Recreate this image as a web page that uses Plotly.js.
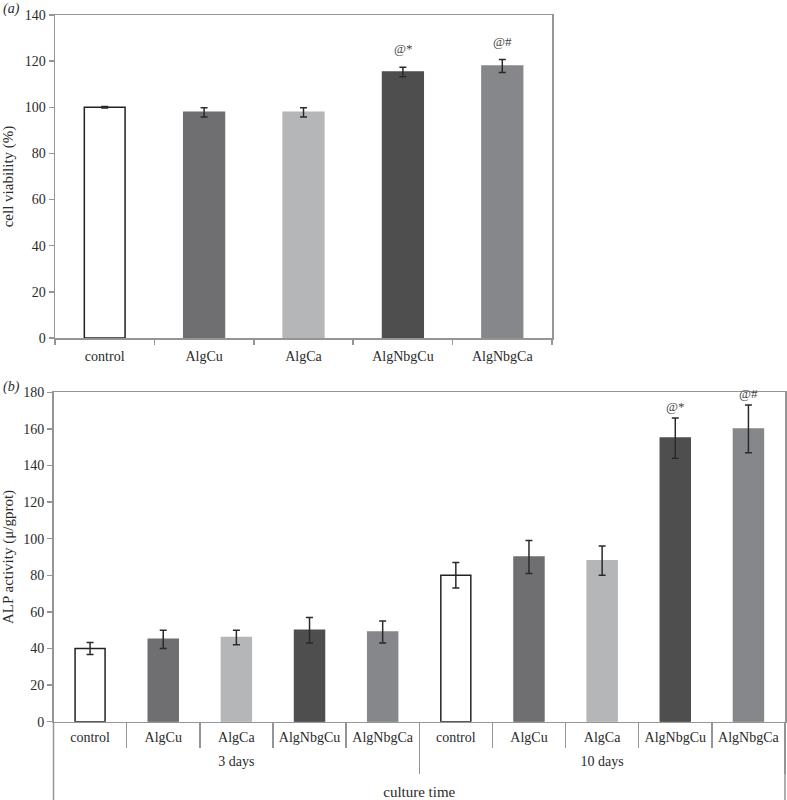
<!DOCTYPE html>
<html>
<head>
<meta charset="utf-8">
<script src="https://cdn.plot.ly/plotly-3.0.1.min.js"></script>
<style>html,body{margin:0;padding:0;background:#fff;}#chart{width:787px;height:800px;}</style>
</head>
<body>
<div id="chart"></div>
<script>
// ---- data ----
const topCats = ['control', 'AlgCu', 'AlgCa', 'AlgNbgCu', 'AlgNbgCa'];
const topVals = [100, 97.8, 97.8, 115.3, 117.9];
const topErr = [0.3, 2.0, 2.0, 2.1, 2.8];
const topMarks = ['', '', '', '@*', '@#'];

const dayGroups = ['3 days', '3 days', '3 days', '3 days', '3 days',
                   '10 days', '10 days', '10 days', '10 days', '10 days'];
const alpCats = ['control', 'AlgCu', 'AlgCa', 'AlgNbgCu', 'AlgNbgCa',
                 'control', 'AlgCu', 'AlgCa', 'AlgNbgCu', 'AlgNbgCa'];
const alpVals = [40, 45, 46, 50, 49, 80, 90, 88, 155, 160];
const alpErr = [3.3, 5, 4, 7, 6, 7, 9, 8, 11, 13];
const alpMarks = ['', '', '', '', '', '', '', '', '@*', '@#'];

// ---- styles ----
const fillByCat = {control: '#ffffff', AlgCu: '#6f6f71', AlgCa: '#b5b6b8', AlgNbgCu: '#4e4e4e', AlgNbgCa: '#86878a'};
const lineByCat = {control: '#222222', AlgCu: '#6f6f71', AlgCa: '#b5b6b8', AlgNbgCu: '#4e4e4e', AlgNbgCa: '#86878a'};
const axisGrey = '#959595';
const textCol = '#2a2a2a';
const serif = 'Liberation Serif, Times New Roman, serif';

const W = 787, H = 800;
const topDomX = [55 / W, 552 / W];
const topDomY = [1 - 338 / H, 1 - 15 / H];
const botDomX = [53.5 / W, 785 / W];
const botDomY = [1 - 721.7 / H, 1 - 392.3 / H];

const errStyle = {type: 'data', visible: true, color: '#2a2a2a', thickness: 1.5, width: 3.5};

// derived positions of the bottom axis (index scale of the multicategory axis)
const n = alpCats.length;
const idx = alpCats.map((_, i) => i);
const boundaries = idx.map(i => i - 0.5).concat([n - 0.5]);
const groupNames = [], groupMembers = [], groupBounds = [-0.5];
dayGroups.forEach((g, i) => {
  if (groupNames[groupNames.length - 1] !== g) { groupNames.push(g); groupMembers.push([]); if (i > 0) groupBounds.push(i - 0.5); }
  groupMembers[groupMembers.length - 1].push(i);
});
groupBounds.push(n - 0.5);
const groupMid = groupMembers.map(a => a.reduce((s, v) => s + v, 0) / a.length);

const traces = [
  {
    type: 'bar', xaxis: 'x', yaxis: 'y',
    x: topCats, y: topVals,
    error_y: Object.assign({array: topErr}, errStyle),
    marker: {color: topCats.map(c => fillByCat[c]), line: {color: topCats.map(c => lineByCat[c]), width: 1.5}},
    hoverinfo: 'x+y'
  },
  {
    type: 'bar', xaxis: 'x2', yaxis: 'y2',
    x: [dayGroups, alpCats], y: alpVals,
    error_y: Object.assign({array: alpErr}, errStyle),
    marker: {color: alpCats.map(c => fillByCat[c]), line: {color: alpCats.map(c => lineByCat[c]), width: 1.5}},
    hoverinfo: 'y'
  }
];
// empty carriers so the overlay label/separator axes get drawn
['x3', 'x4', 'x5', 'x6'].forEach(ax => traces.push({
  type: 'scatter', mode: 'markers', xaxis: ax, yaxis: 'y2', x: [], y: [], hoverinfo: 'skip', showlegend: false
}));

const annotations = [];
topCats.forEach((c, i) => {
  if (topMarks[i]) annotations.push({
    xref: 'x', yref: 'y', x: c, y: topVals[i] + topErr[i], text: topMarks[i],
    showarrow: false, yanchor: 'bottom', yshift: 9,
    font: {family: serif, size: 13, color: '#444'}
  });
});
alpCats.forEach((c, i) => {
  if (alpMarks[i]) annotations.push({
    xref: 'x3', yref: 'y2', x: i, y: alpVals[i] + alpErr[i], text: alpMarks[i],
    showarrow: false, yanchor: 'bottom', yshift: 2,
    font: {family: serif, size: 13, color: '#444'}
  });
});
annotations.push({xref: 'paper', yref: 'paper', x: 0.001, y: 1 - 9 / H, xanchor: 'left', yanchor: 'middle',
  text: '<i>(a)</i>', showarrow: false, font: {family: serif, size: 14, color: textCol}});
annotations.push({xref: 'paper', yref: 'paper', x: 0.001, y: 1 - 387 / H, xanchor: 'left', yanchor: 'middle',
  text: '<i>(b)</i>', showarrow: false, font: {family: serif, size: 14, color: textCol}});

const overlayBase = {
  overlaying: 'x2', anchor: 'y2', type: 'linear', range: [-0.5, n - 0.5],
  showline: false, showgrid: false, zeroline: false, automargin: false, fixedrange: true
};

const layout = {
  width: W, height: H,
  margin: {l: 0, r: 0, t: 0, b: 0},
  paper_bgcolor: '#ffffff', plot_bgcolor: '#ffffff',
  showlegend: false,
  bargap: 0.59,
  font: {family: serif, size: 14, color: textCol},
  xaxis: {
    domain: topDomX, anchor: 'y', type: 'category',
    showline: true, linecolor: axisGrey, linewidth: 1.5, mirror: true,
    ticks: 'outside', tickson: 'boundaries', ticklen: 5, tickcolor: axisGrey, tickwidth: 1.5,
    ticklabelstandoff: 5,
    showgrid: false, zeroline: false, automargin: false,
    tickfont: {family: serif, size: 14, color: textCol}
  },
  yaxis: {
    domain: topDomY, anchor: 'x', range: [0, 140], dtick: 20,
    showline: true, linecolor: axisGrey, linewidth: 1.5, mirror: true,
    ticks: 'outside', ticklen: 5, tickcolor: axisGrey, tickwidth: 1.5,
    showgrid: false, zeroline: false, automargin: false,
    tickfont: {family: serif, size: 14, color: textCol},
    title: {text: 'cell viability (%)', standoff: 10, font: {family: serif, size: 15, color: textCol}}
  },
  xaxis2: {
    domain: botDomX, anchor: 'y2', type: 'multicategory',
    showline: true, linecolor: axisGrey, linewidth: 1.5, mirror: true,
    ticks: '', showticklabels: false, showdividers: false,
    showgrid: false, zeroline: false, automargin: false
  },
  // category labels
  xaxis3: Object.assign({}, overlayBase, {
    tickmode: 'array', tickvals: idx, ticktext: alpCats, ticks: '',
    ticklabelstandoff: 5,
    tickfont: {family: serif, size: 14, color: textCol}
  }),
  // category separators
  xaxis4: Object.assign({}, overlayBase, {
    tickmode: 'array', tickvals: boundaries, showticklabels: false,
    ticks: 'outside', ticklen: 25, tickcolor: axisGrey, tickwidth: 1.5
  }),
  // group labels + axis title
  xaxis5: Object.assign({}, overlayBase, {
    tickmode: 'array', tickvals: groupMid, ticktext: groupNames, ticks: '',
    ticklabelstandoff: 29,
    tickfont: {family: serif, size: 14, color: textCol},
    title: {text: 'culture time', standoff: 19, font: {family: serif, size: 15, color: textCol}}
  }),
  // group separators
  xaxis6: Object.assign({}, overlayBase, {
    tickmode: 'array', tickvals: groupBounds, showticklabels: false,
    ticks: 'outside', ticklen: 51, tickcolor: axisGrey, tickwidth: 1.5
  }),
  yaxis2: {
    domain: botDomY, anchor: 'x2', range: [0, 180], dtick: 20,
    showline: true, linecolor: axisGrey, linewidth: 1.5, mirror: true,
    ticks: 'outside', ticklen: 5, tickcolor: axisGrey, tickwidth: 1.5,
    showgrid: false, zeroline: false, automargin: false,
    tickfont: {family: serif, size: 14, color: textCol},
    title: {text: 'ALP activity (μ/gprot)', standoff: 10, font: {family: serif, size: 15, color: textCol}}
  },
  annotations: annotations,
  shapes: [
    {type: 'line', xref: 'x2 domain', yref: 'paper', x0: 0, x1: 0, y0: 0, y1: botDomY[0],
     line: {color: axisGrey, width: 1.5}},
    {type: 'line', xref: 'x2 domain', yref: 'paper', x0: 1, x1: 1, y0: 0, y1: botDomY[0],
     line: {color: axisGrey, width: 1.5}}
  ]
};

Plotly.newPlot('chart', traces, layout, {staticPlot: true, displayModeBar: false});
</script>
</body>
</html>
